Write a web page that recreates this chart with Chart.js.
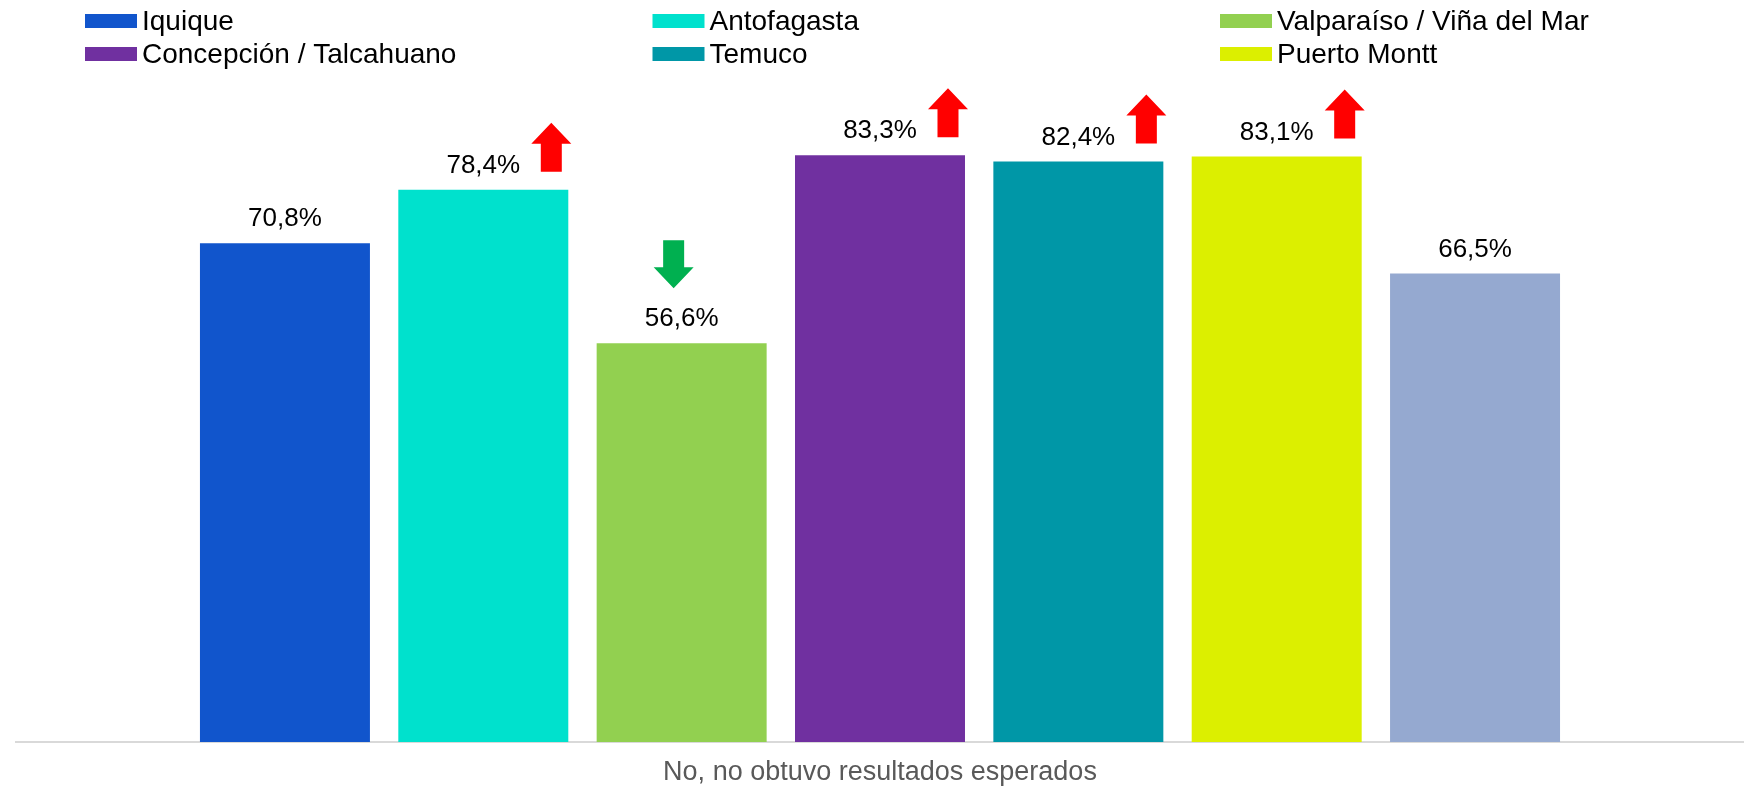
<!DOCTYPE html>
<html>
<head>
    <meta charset="UTF-8">
    <script src="https://cdn.jsdelivr.net/npm/chart.js"></script>
    <style>
        html, body { margin: 0; padding: 0; background: #fff; }
        #wrap { width: 1744px; height: 788px; }
    </style>
</head>
<body>
<div id="wrap"><canvas id="resultsChart" width="1744" height="788"></canvas></div>

<script>
    const categories = ['No, no obtuvo resultados esperados'];
    const cities = ['Iquique', 'Antofagasta', 'Valparaíso / Viña del Mar', 'Concepción / Talcahuano', 'Temuco', 'Puerto Montt', ''];
    const values = [70.8, 78.4, 56.6, 83.3, 82.4, 83.1, 66.5];
    const trends = [null, 'up', 'down', 'up', 'up', 'up', null];
    const inLegend = [true, true, true, true, true, true, false];
    const colors = ['#1155CC', '#00E1CD', '#92D050', '#7030A0', '#0097A7', '#DCEF00', '#95A9D0'];

    const FONT = "'Liberation Sans', Arial, sans-serif";

    function fmt(v) {
        return v.toFixed(1).replace('.', ',') + '%';
    }

    // legend drawn as a 3 column grid like the original
    const gridLegend = {
        id: 'gridLegend',
        afterDraw(chart) {
            const ctx = chart.ctx;
            ctx.save();
            ctx.font = '28px ' + FONT;
            ctx.textBaseline = 'middle';
            let k = 0;
            cities.forEach((name, i) => {
                if (!inLegend[i]) return;
                const col = k % 3, row = Math.floor(k / 3);
                const x = 85 + col * 567.5;
                const y = 21 + row * 33;
                ctx.fillStyle = colors[i];
                ctx.fillRect(x, y - 7, 52, 14);
                ctx.fillStyle = '#000';
                ctx.fillText(name, x + 57, y + 1);
                k++;
            });
            ctx.restore();
        }
    };

    function upArrow(ctx, cx, bottom) {
        ctx.beginPath();
        ctx.moveTo(cx - 10.5, bottom);
        ctx.lineTo(cx - 10.5, bottom - 28);
        ctx.lineTo(cx - 20, bottom - 28);
        ctx.lineTo(cx, bottom - 49);
        ctx.lineTo(cx + 20, bottom - 28);
        ctx.lineTo(cx + 10.5, bottom - 28);
        ctx.lineTo(cx + 10.5, bottom);
        ctx.closePath();
        ctx.fill();
    }

    function downArrow(ctx, cx, tip) {
        ctx.beginPath();
        ctx.moveTo(cx - 10.5, tip - 48);
        ctx.lineTo(cx + 10.5, tip - 48);
        ctx.lineTo(cx + 10.5, tip - 21);
        ctx.lineTo(cx + 20, tip - 21);
        ctx.lineTo(cx, tip);
        ctx.lineTo(cx - 20, tip - 21);
        ctx.lineTo(cx - 10.5, tip - 21);
        ctx.closePath();
        ctx.fill();
    }

    const labelsAndArrows = {
        id: 'labelsAndArrows',
        afterDatasetsDraw(chart) {
            const ctx = chart.ctx;
            ctx.save();
            chart.data.datasets.forEach((ds, i) => {
                const bar = chart.getDatasetMeta(i).data[0];
                const labelY = bar.y - 24;
                ctx.font = '26px ' + FONT;
                ctx.fillStyle = '#000';
                ctx.textAlign = 'center';
                ctx.textBaseline = 'middle';
                ctx.fillText(fmt(values[i]), bar.x, labelY);
                if (trends[i] === 'up') {
                    ctx.fillStyle = '#FF0000';
                    upArrow(ctx, bar.x + bar.width * 0.40, labelY + 6);
                } else if (trends[i] === 'down') {
                    ctx.fillStyle = '#00B050';
                    downArrow(ctx, bar.x - 8, labelY - 31);
                }
            });
            ctx.restore();
        }
    };

    new Chart(document.getElementById('resultsChart'), {
        type: 'bar',
        data: {
            labels: categories,
            datasets: cities.map((name, i) => ({
                label: name,
                data: [values[i]],
                backgroundColor: colors[i],
                categoryPercentage: 0.8035,
                barPercentage: 0.857
            }))
        },
        options: {
            responsive: false,
            animation: false,
            layout: { padding: { top: 108, left: 16, right: 0, bottom: 0 } },
            plugins: {
                legend: { display: false },
                tooltip: { enabled: false }
            },
            scales: {
                y: { display: false, min: 0, max: 90 },
                x: {
                    afterFit(scale) { scale.height = 46; },
                    grid: { display: false, drawTicks: false },
                    border: { display: true, color: '#D9D9D9', width: 2 },
                    ticks: {
                        color: '#595959',
                        padding: 14,
                        font: { family: FONT, size: 27 }
                    }
                }
            }
        },
        plugins: [gridLegend, labelsAndArrows]
    });
</script>
</body>
</html>
